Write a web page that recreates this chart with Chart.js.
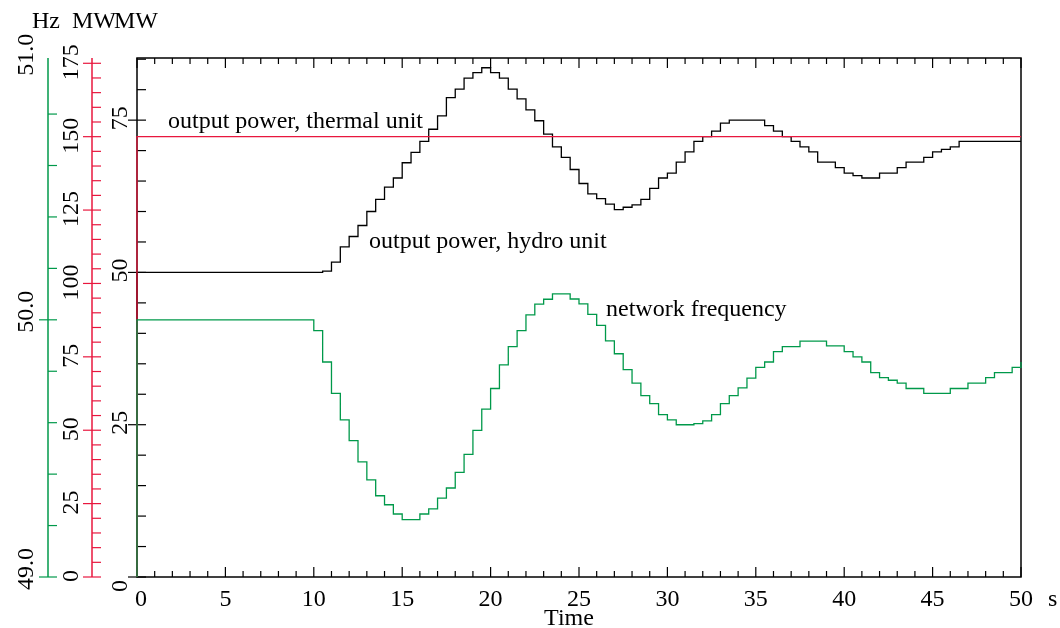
<!DOCTYPE html>
<html>
<head>
<meta charset="utf-8">
<script src="https://cdn.jsdelivr.net/npm/chart.js@4.4.1/dist/chart.umd.min.js"></script>
<style>
  html, body { margin: 0; padding: 0; background: #ffffff; }
  canvas { display: block; }
</style>
</head>
<body>
<canvas id="c" width="1060" height="628"></canvas>
<script>
// ---- data -------------------------------------------------------------
// Time stamps (s) and values of each stepped trace; each value holds until the next stamp.
const freqTime = [0, 0, 10, 10.5, 11, 11.5, 12, 12.5, 13, 13.5, 14, 14.5, 15, 15.5, 16, 16.5, 17, 17.5,
  18, 18.5, 19, 19.5, 20, 20.5, 21, 21.5, 22, 22.5, 23, 23.5, 24, 24.5, 25, 25.5, 26, 26.5, 27, 27.5,
  28, 28.5, 29, 29.5, 30, 30.5, 31, 31.5, 32, 32.5, 33, 33.5, 34, 34.5, 35, 35.5, 36, 36.5, 37, 37.5,
  38, 38.5, 39, 39.5, 40, 40.5, 41, 41.5, 42, 42.5, 43, 43.5, 44, 44.5, 45, 45.5, 46, 46.5, 47, 47.5,
  48, 48.5, 49, 49.5, 50];
const freqHz = [49.0, 50.0, 49.958, 49.836, 49.714, 49.611, 49.530, 49.448, 49.378, 49.316, 49.281, 49.245,
  49.223, 49.223, 49.245, 49.265, 49.307, 49.346, 49.407, 49.477, 49.570, 49.653, 49.733, 49.825, 49.896,
  49.958, 50.019, 50.061, 50.080, 50.101, 50.101, 50.081, 50.062, 50.021, 49.978, 49.918, 49.868, 49.806,
  49.754, 49.705, 49.674, 49.631, 49.611, 49.592, 49.592, 49.596, 49.607, 49.631, 49.674, 49.705, 49.735,
  49.773, 49.815, 49.836, 49.876, 49.896, 49.896, 49.917, 49.917, 49.917, 49.899, 49.899, 49.876, 49.856,
  49.836, 49.795, 49.775, 49.765, 49.754, 49.733, 49.733, 49.714, 49.714, 49.714, 49.733, 49.733, 49.754,
  49.754, 49.775, 49.795, 49.795, 49.815, 49.836];

const hydroTime = [0, 0, 10.5, 11, 11.5, 12, 12.5, 13, 13.5, 14, 14.5, 15, 15.5, 16, 16.5, 17, 17.5,
  18, 18.5, 19, 19.5, 20, 20.5, 21, 21.5, 22, 22.5, 23, 23.5, 24, 24.5, 25, 25.5, 26, 26.5, 27, 27.5,
  28, 28.5, 29, 29.5, 30, 30.5, 31, 31.5, 32, 32.5, 33, 33.5, 34, 34.5, 35, 35.5, 36, 36.5, 37, 37.5,
  38, 38.5, 39, 39.5, 40, 40.5, 41, 41.5, 42, 42.5, 43, 43.5, 44, 44.5, 45, 45.5, 46, 46.5, 50];
const hydroMW = [0, 50, 50.2, 51.7, 54.2, 55.9, 57.7, 60.0, 62.0, 64.0, 65.5, 68.0, 69.7, 71.5, 73.5,
  75.7, 78.7, 80.1, 81.9, 82.8, 83.6, 82.8, 81.9, 80.1, 78.5, 76.7, 74.9, 72.7, 70.6, 68.9, 66.9, 64.6,
  62.9, 62.1, 61.2, 60.3, 60.7, 61.1, 62.0, 63.8, 65.5, 66.3, 68.1, 69.8, 71.5, 72.3, 73.2, 74.5, 75.0,
  75.0, 75.0, 75.0, 74.1, 73.2, 72.3, 71.5, 70.6, 69.8, 68.1, 68.1, 67.2, 66.3, 65.9, 65.5, 65.5, 66.3,
  66.3, 67.2, 68.1, 68.1, 68.9, 69.8, 70.2, 70.6, 71.5, 71.5];

const thermalTime = [0, 0, 50];
const thermalMW = [0, 150, 150];

// ---- axis ticks ---------------------------------------------------------
const xTickLabels = ['0', '5', '10', '15', '20', '25', '30', '35', '40', '45', '50'];
const hzTickLabels = ['49.0', '50.0', '51.0'];
const redTickLabels = ['0', '25', '50', '75', '100', '125', '150', '175'];
const mwTickLabels = ['0', '25', '50', '75'];

const GREEN = '#00994a';
const RED = '#e8173e';
const FONT = '24px "Liberation Serif", "Times New Roman", serif';

const pts = (ts, vs) => ts.map((t, i) => ({ x: t, y: vs[i] }));

function seg(ctx, x1, y1, x2, y2) {
  ctx.beginPath(); ctx.moveTo(x1, y1); ctx.lineTo(x2, y2); ctx.stroke();
}

// Draws a vertical value axis at xLine with inward minor ticks and crossing major ticks.
function drawValueAxis(ctx, scale, area, o) {
  ctx.strokeStyle = o.color;
  ctx.lineWidth = 1.5;
  if (o.drawLine) seg(ctx, o.xLine, area.top, o.xLine, area.bottom);
  ctx.lineWidth = 1.2;
  for (let i = 0; i <= o.minorCount; i++) {
    const v = o.start + i * o.minorStep;
    if (v > o.maxTick + 1e-9) break;
    const py = scale.getPixelForValue(v);
    const isMajor = o.majorValues.some(m => Math.abs(m - v) < 1e-6);
    seg(ctx, isMajor ? o.xLine - 9 : o.xLine, py, o.xLine + 9, py);
  }
  ctx.fillStyle = '#000';
  ctx.font = FONT;
  ctx.textAlign = 'center';
  ctx.textBaseline = 'alphabetic';
  o.labels.forEach((lab, i) => {
    let py = scale.getPixelForValue(o.majorValues[i]) + o.labelShift;
    if (o.lowShift && i === 0) py += o.lowShift;
    ctx.save();
    ctx.translate(o.labelX, py);
    ctx.rotate(-Math.PI / 2);
    ctx.fillText(lab, 0, 0);
    ctx.restore();
  });
}

const framePlugin = {
  id: 'frameAndAxes',
  beforeDatasetsDraw(chart) {
    const { ctx, chartArea: a, scales } = chart;
    ctx.save();
    // plot frame
    ctx.strokeStyle = '#000';
    ctx.lineWidth = 1.5;
    ctx.strokeRect(a.left, a.top, a.right - a.left, a.bottom - a.top);

    // time ticks along bottom and top edges
    ctx.lineWidth = 1.2;
    for (let t = 0; t <= 50; t++) {
      const px = scales.x.getPixelForValue(t);
      const len = t % 5 === 0 ? 10 : 6;
      seg(ctx, px, a.bottom, px, a.bottom - len);
      seg(ctx, px, a.top, px, a.top + len);
    }
    ctx.fillStyle = '#000';
    ctx.font = FONT;
    ctx.textAlign = 'center';
    ctx.textBaseline = 'alphabetic';
    xTickLabels.forEach((lab, i) => {
      const px = scales.x.getPixelForValue(i * 5) + (i === 0 ? 4 : 0);
      ctx.fillText(lab, px, 606);
    });

    // frequency axis (Hz)
    drawValueAxis(ctx, scales.yHz, a, {
      color: GREEN, xLine: 48, drawLine: true, start: 49, minorStep: 0.2, minorCount: 9,
      maxTick: 50.8, majorValues: [49, 50, 51], labels: hzTickLabels, labelX: 33, labelShift: -8
    });
    // thermal unit power axis (MW)
    drawValueAxis(ctx, scales.yRed, a, {
      color: RED, xLine: 92, drawLine: true, start: 0, minorStep: 5, minorCount: 35,
      maxTick: 175, majorValues: [0, 25, 50, 75, 100, 125, 150, 175], labels: redTickLabels,
      labelX: 78, labelShift: -1
    });
    // hydro unit power axis (MW), on the frame's left edge
    drawValueAxis(ctx, scales.yMW, a, {
      color: '#000', xLine: a.left, drawLine: false, start: 0, minorStep: 5, minorCount: 17,
      maxTick: 85, majorValues: [0, 25, 50, 75], labels: mwTickLabels, labelX: 127,
      labelShift: -2, lowShift: 11
    });
    ctx.restore();
  },
  afterDraw(chart) {
    const { ctx } = chart;
    ctx.save();
    ctx.fillStyle = '#000';
    ctx.font = FONT;
    ctx.textBaseline = 'alphabetic';
    ctx.textAlign = 'left';
    ctx.fillText('Hz', 32, 28);
    ctx.fillText('MW', 72, 28);
    ctx.fillText('MW', 114, 28);
    ctx.fillText('output power, thermal unit', 168, 128);
    ctx.fillText('output power, hydro unit', 369, 248);
    ctx.fillText('network frequency', 606, 316);
    ctx.fillText('s', 1048, 606);
    ctx.textAlign = 'center';
    ctx.fillText('Time', 569, 625);
    ctx.restore();
  }
};

const lineStyle = { pointRadius: 0, borderWidth: 1.3, stepped: 'before', tension: 0, clip: false, fill: false };

new Chart(document.getElementById('c'), {
  type: 'line',
  data: {
    datasets: [
      Object.assign({ label: 'network frequency', data: pts(freqTime, freqHz), yAxisID: 'yHz',
        borderColor: GREEN, order: 0 }, lineStyle),
      Object.assign({ label: 'output power, thermal unit', data: pts(thermalTime, thermalMW), yAxisID: 'yRed',
        borderColor: RED, order: 1 }, lineStyle),
      Object.assign({ label: 'output power, hydro unit', data: pts(hydroTime, hydroMW), yAxisID: 'yMW',
        borderColor: '#000000', order: 2 }, lineStyle)
    ]
  },
  options: {
    responsive: false,
    animation: false,
    devicePixelRatio: 1,
    layout: { padding: { left: 137, top: 58, right: 39, bottom: 51 } },
    plugins: { legend: { display: false }, tooltip: { enabled: false } },
    scales: {
      x: { type: 'linear', min: 0, max: 50, display: false },
      yHz: { type: 'linear', position: 'left', min: 49, max: 51.018, display: false },
      yRed: { type: 'linear', position: 'left', min: 0, max: 176.8, display: false },
      yMW: { type: 'linear', position: 'left', min: 0, max: 85.2, display: false }
    }
  },
  plugins: [framePlugin]
});
</script>
</body>
</html>
